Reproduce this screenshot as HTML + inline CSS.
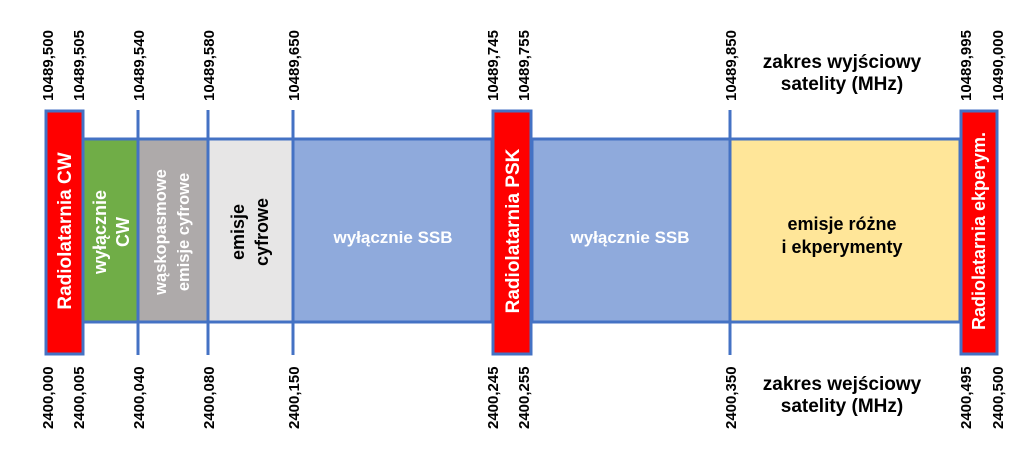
<!DOCTYPE html>
<html><head><meta charset="utf-8"><style>body{margin:0;background:#fff}svg{display:block}text{font-family:"Liberation Sans",sans-serif;font-weight:bold}</style></head><body>
<svg width="1024" height="453" viewBox="0 0 1024 453">
<g stroke="#4472C4" stroke-width="3">
<rect x="83" y="139" width="55" height="183" fill="#70AD47"/>
<rect x="138" y="139" width="70" height="183" fill="#AEAAAA"/>
<rect x="208" y="139" width="85" height="183" fill="#E7E6E6"/>
<rect x="293" y="139" width="199" height="183" fill="#8FAADC"/>
<rect x="532" y="139" width="198" height="183" fill="#8FAADC"/>
<rect x="730" y="139" width="230" height="183" fill="#FFE699"/>
<line x1="138" y1="110" x2="138" y2="355"/>
<line x1="208" y1="110" x2="208" y2="355"/>
<line x1="293" y1="110" x2="293" y2="355"/>
<line x1="730" y1="110" x2="730" y2="355"/>
<rect x="46" y="111" width="37" height="243" fill="#FF0000"/>
<rect x="493" y="111" width="38" height="243" fill="#FF0000"/>
<rect x="961" y="111" width="36" height="243" fill="#FF0000"/>
</g>
<g fill="#fff" font-size="19" text-anchor="middle">
<text transform="translate(71,231) rotate(-90)">Radiolatarnia CW</text>
<text transform="translate(519,231) rotate(-90)">Radiolatarnia PSK</text>
<text transform="translate(985,231) rotate(-90)" font-size="18">Radiolatarnia ekperym.</text>
<text x="393" y="243" font-size="17">wyłącznie SSB</text>
<text x="630" y="243" font-size="17">wyłącznie SSB</text>
<text transform="translate(106,232) rotate(-90)" font-size="18">wyłącznie</text>
<text transform="translate(129,232) rotate(-90)" font-size="18">CW</text>
<text transform="translate(166,232) rotate(-90)" font-size="16.5">wąskopasmowe</text>
<text transform="translate(189,232) rotate(-90)" font-size="16.5">emisje cyfrowe</text>
</g>
<g fill="#000" text-anchor="middle">
<text transform="translate(244,232) rotate(-90)" font-size="18">emisje</text>
<text transform="translate(268,232) rotate(-90)" font-size="18">cyfrowe</text>
<text x="842" y="230" font-size="18">emisje różne</text>
<text x="842" y="253" font-size="18">i ekperymenty</text>
<text x="842" y="68" font-size="19">zakres wyjściowy</text>
<text x="842" y="90" font-size="19">satelity (MHz)</text>
<text x="842" y="390" font-size="19">zakres wejściowy</text>
<text x="842" y="412" font-size="19">satelity (MHz)</text>
</g>
<g fill="#000" font-size="15">
<text transform="translate(53,101) rotate(-90)">10489,500</text>
<text transform="translate(84,101) rotate(-90)">10489,505</text>
<text transform="translate(144,101) rotate(-90)">10489,540</text>
<text transform="translate(214,101) rotate(-90)">10489,580</text>
<text transform="translate(299,101) rotate(-90)">10489,650</text>
<text transform="translate(498,101) rotate(-90)">10489,745</text>
<text transform="translate(529,101) rotate(-90)">10489,755</text>
<text transform="translate(736,101) rotate(-90)">10489,850</text>
<text transform="translate(971,101) rotate(-90)">10489,995</text>
<text transform="translate(1003,101) rotate(-90)">10490,000</text>
<text transform="translate(53,429) rotate(-90)">2400,000</text>
<text transform="translate(84,429) rotate(-90)">2400,005</text>
<text transform="translate(144,429) rotate(-90)">2400,040</text>
<text transform="translate(214,429) rotate(-90)">2400,080</text>
<text transform="translate(299,429) rotate(-90)">2400,150</text>
<text transform="translate(498,429) rotate(-90)">2400,245</text>
<text transform="translate(529,429) rotate(-90)">2400,255</text>
<text transform="translate(736,429) rotate(-90)">2400,350</text>
<text transform="translate(971,429) rotate(-90)">2400,495</text>
<text transform="translate(1003,429) rotate(-90)">2400,500</text>
</g>
</svg>
</body></html>
